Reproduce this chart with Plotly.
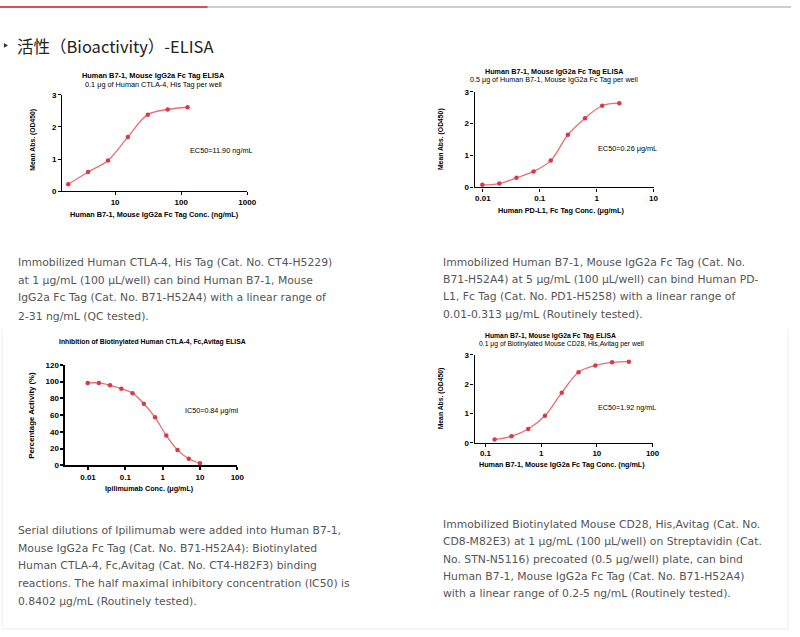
import plotly.graph_objects as go

W, H = 800, 637

# ---------------- data ----------------
c1_conc = [1.95, 3.9, 7.8, 15.6, 31.25, 62.5, 125]
c1_od = [0.22, 0.60, 0.96, 1.69, 2.38, 2.54, 2.61]

c2_conc = [0.0098, 0.0195, 0.039, 0.078, 0.156, 0.3125, 0.625, 1.25, 2.5]
c2_od = [0.08, 0.12, 0.30, 0.50, 0.84, 1.65, 2.17, 2.56, 2.64]

c3_conc = [0.0098, 0.0195, 0.039, 0.078, 0.156, 0.3125, 0.625, 1.25, 2.5, 5, 10]
c3_act = [98.4, 98.4, 95.6, 91.5, 86.2, 73.6, 57.4, 35.8, 18.5, 7.9, 2.7]

c4_conc = [0.146, 0.293, 0.586, 1.17, 2.34, 4.69, 9.375, 18.75, 37.5]
c4_od = [0.11, 0.22, 0.47, 0.92, 1.71, 2.41, 2.64, 2.75, 2.77]

c1_xticks = [10, 100, 1000]
c2_xticks = [0.01, 0.1, 1, 10]
c3_xticks = [0.01, 0.1, 1, 10, 100]
c4_xticks = [0.1, 1, 10, 100]
od_yticks = [0, 1, 2, 3]
act_yticks = [0, 20, 40, 60, 80, 100, 120]

heading = "活性（Bioactivity）-ELISA"

text1 = ["Immobilized Human CTLA-4, His Tag (Cat. No. CT4-H5229)",
         "at 1 μg/mL (100 μL/well) can bind Human B7-1, Mouse",
         "IgG2a Fc Tag (Cat. No. B71-H52A4) with a linear range of",
         "2-31 ng/mL (QC tested)."]
text2 = ["Immobilized Human B7-1, Mouse IgG2a Fc Tag (Cat. No.",
         "B71-H52A4) at 5 μg/mL (100 μL/well) can bind Human PD-",
         "L1, Fc Tag (Cat. No. PD1-H5258) with a linear range of",
         "0.01-0.313 μg/mL (Routinely tested)."]
text3 = ["Serial dilutions of Ipilimumab were added into Human B7-1,",
         "Mouse IgG2a Fc Tag (Cat. No. B71-H52A4): Biotinylated",
         "Human CTLA-4, Fc,Avitag (Cat. No. CT4-H82F3) binding",
         "reactions. The half maximal inhibitory concentration (IC50) is",
         "0.8402 μg/mL (Routinely tested)."]
text4 = ["Immobilized Biotinylated Mouse CD28, His,Avitag (Cat. No.",
         "CD8-M82E3) at 1 μg/mL (100 μL/well) on Streptavidin (Cat.",
         "No. STN-N5116) precoated (0.5 μg/well) plate, can bind",
         "Human B7-1, Mouse IgG2a Fc Tag (Cat. No. B71-H52A4)",
         "with a linear range of 0.2-5 ng/mL (Routinely tested)."]


def px(x):
    return x / W


def py(y):
    return 1 - y / H


LINE_C = "rgb(232,110,112)"
MARK_C = "rgb(214,58,70)"
CF = "Liberation Sans"

fig = go.Figure()

charts = [
    dict(x=c1_conc, y=c1_od, box=(63, 92, 250, 190), xr=[0.2, 3], yr=[0, 3],
         xt=c1_xticks, yt=od_yticks),
    dict(x=c2_conc, y=c2_od, box=(480, 89, 661, 186), xr=[-2.145, 1], yr=[0, 3],
         xt=c2_xticks, yt=od_yticks),
    dict(x=c3_conc, y=c3_act, box=(66, 366, 240, 468), xr=[-2.61, 2], yr=[0, 120],
         xt=c3_xticks, yt=act_yticks),
    dict(x=c4_conc, y=c4_od, box=(480, 356, 660, 445), xr=[-1.195, 2], yr=[0, 3],
         xt=c4_xticks, yt=od_yticks),
]

for i, ch in enumerate(charts, start=1):
    xa = "x" if i == 1 else f"x{i}"
    ya = "y" if i == 1 else f"y{i}"
    fig.add_trace(go.Scatter(x=ch["x"], y=ch["y"], mode="lines",
                             line=dict(color=LINE_C, width=1.3, shape="spline", smoothing=1.0),
                             xaxis=xa, yaxis=ya, showlegend=False, hoverinfo="skip"))
    fig.add_trace(go.Scatter(x=ch["x"], y=ch["y"], mode="markers",
                             marker=dict(color=MARK_C, size=4.5),
                             xaxis=xa, yaxis=ya, showlegend=False))
    x0, y0, x1, y1 = ch["box"]
    lw = 1.6 if i == 3 else 1.3
    fs = 8
    xkey = "xaxis" if i == 1 else f"xaxis{i}"
    ykey = "yaxis" if i == 1 else f"yaxis{i}"
    fig.update_layout(**{
        xkey: dict(domain=[px(x0), px(x1)], anchor=ya, type="log", range=ch["xr"],
                   tickvals=ch["xt"], ticktext=[f"<b>{v:g}</b>" for v in ch["xt"]],
                   showline=True, linecolor="black", linewidth=lw, ticks="outside",
                   ticklen=3, tickwidth=lw, tickcolor="black", showgrid=False,
                   zeroline=False, tickfont=dict(family=CF, size=fs, color="black")),
        ykey: dict(domain=[py(y1), py(y0)], anchor=xa, range=ch["yr"],
                   tickvals=ch["yt"], ticktext=[f"<b>{v}</b>" for v in ch["yt"]],
                   showline=True, linecolor="black", linewidth=lw, ticks="outside",
                   ticklen=3, tickwidth=lw, tickcolor="black", showgrid=False,
                   zeroline=False, tickfont=dict(family=CF, size=fs, color="black")),
    })

ann = []


def add(text, x, y, size, xanchor="center", color="black", family=CF, angle=0, yanchor="middle"):
    ann.append(dict(text=text, x=px(x), y=py(y), xref="paper", yref="paper",
                    showarrow=False, xanchor=xanchor, yanchor=yanchor, textangle=angle,
                    font=dict(family=family, size=size, color=color)))


# chart 1 texts
add("<b>Human B7-1, Mouse IgG2a Fc Tag ELISA</b>", 155, 73, 7.4)
add("0.1 μg of Human CTLA-4, His Tag per well", 155, 81.5, 7.3)
add("<b>Human B7-1, Mouse IgG2a Fc Tag Conc. (ng/mL)</b>", 156, 214, 7.3)
add("<b>Mean Abs. (OD450)</b>", 33, 138, 6.8, angle=-90)
add("EC50=11.90 ng/mL", 190, 149, 7.3, xanchor="left")
# chart 2 texts
add("<b>Human B7-1, Mouse IgG2a Fc Tag ELISA</b>", 560, 68, 7.2)
add("0.5 μg of Human B7-1, Mouse IgG2a Fc Tag per well", 560, 77, 7.2)
add("<b>Human PD-L1, Fc Tag Conc. (μg/mL)</b>", 568, 209, 7.3)
add("<b>Mean Abs. (OD450)</b>", 446, 137, 6.8, angle=-90)
add("EC50=0.26 μg/mL", 603, 147, 7.3, xanchor="left")
# chart 3 texts
add("<b>Inhibition of Biotinylated Human CTLA-4, Fc,Avitag ELISA</b>", 154, 343, 6.8)
add("<b>Ipilimumab Conc. (μg/mL)</b>", 151, 491, 7.2)
add("<b>Percentage Activity (%)</b>", 31, 417, 7.8, angle=-90)
add("IC50=0.84 μg/ml", 185, 412, 7.2, xanchor="left")
# chart 4 texts
add("<b>Human B7-1, Mouse IgG2a Fc Tag ELISA</b>", 557, 337, 6.8)
add("0.1 μg of Biotinylated Mouse CD28, His,Avitag per well", 568, 345, 6.8)
add("<b>Human B7-1, Mouse IgG2a Fc Tag Conc. (ng/mL)</b>", 568, 467, 7.2)
add("<b>Mean Abs. (OD450)</b>", 446, 400, 6.8, angle=-90)
add("EC50=1.92 ng/mL", 603, 409, 7.2, xanchor="left")

# heading
add(heading, 15, 43, 16.5, xanchor="left", color="#222", family="Noto Sans CJK SC")

TF = "DejaVu Sans"
TC = "#555555"
TS = 10.8
for lines, x, ys in [(text1, 16, [262, 280, 298, 316.5]),
                     (text2, 446, [262, 279.5, 297, 314.5]),
                     (text3, 16, [534, 552, 570, 588, 606]),
                     (text4, 446, [528, 545.5, 563, 580.5, 598])]:
    for line, y in zip(lines, ys):
        add(line, x, y, TS, xanchor="left", color=TC, family=TF)

shapes = [
    dict(type="line", xref="paper", yref="paper", x0=px(210), x1=1, y0=py(3), y1=py(3),
         line=dict(color="#cfcfcf", width=2)),
    dict(type="line", xref="paper", yref="paper", x0=0, x1=px(210), y0=py(3), y1=py(3),
         line=dict(color="#d4505c", width=2)),
    dict(type="path", xref="paper", yref="paper",
         path=f"M {px(4)},{py(39.5)} L {px(8)},{py(42)} L {px(4)},{py(44.5)} Z",
         fillcolor="#333", line=dict(width=0)),
    # faint table borders
    dict(type="line", xref="paper", yref="paper", x0=px(2), x1=px(2), y0=py(330), y1=py(634),
         line=dict(color="#ececec", width=1)),
    dict(type="line", xref="paper", yref="paper", x0=px(797), x1=px(797), y0=py(330), y1=py(634),
         line=dict(color="#ececec", width=1)),
    dict(type="line", xref="paper", yref="paper", x0=px(2), x1=px(797), y0=py(634), y1=py(634),
         line=dict(color="#ececec", width=1)),
]

fig.update_layout(width=W, height=H, margin=dict(l=0, r=0, t=0, b=0),
                  paper_bgcolor="white", plot_bgcolor="white",
                  annotations=ann, shapes=shapes, showlegend=False)

fig.write_html("out.html", config={"displayModeBar": False},
               post_script="document.body.style.margin='0';document.body.style.overflow='hidden';")
